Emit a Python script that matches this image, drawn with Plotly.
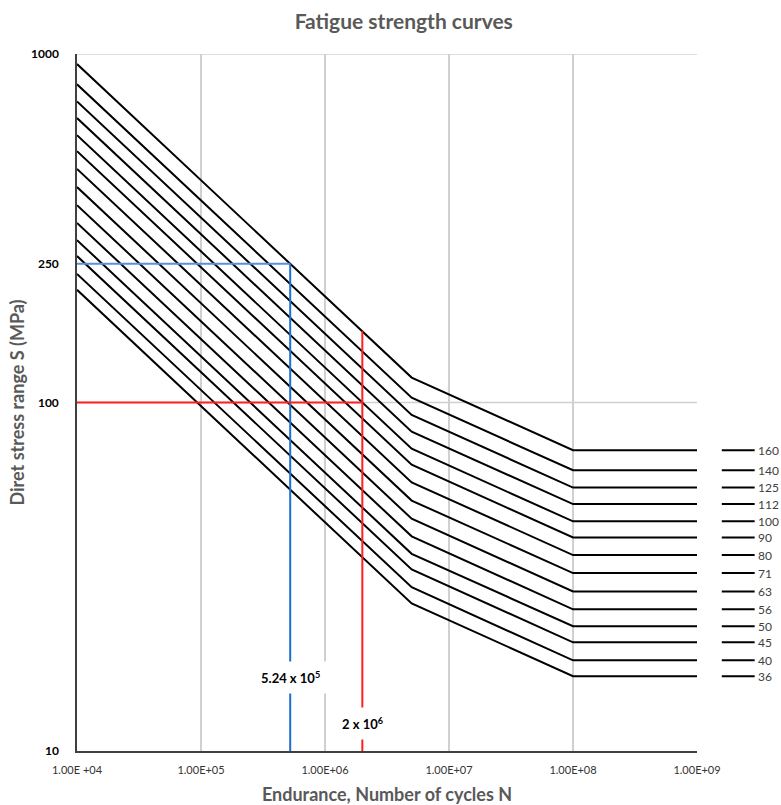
import math
import plotly.graph_objects as go

# ---- data ----
categories = [160, 140, 125, 112, 100, 90, 80, 71, 63, 56, 50, 45, 40, 36]
cycles = [1e4, 2e6, 5e6, 1e8, 1e9]
s_at_1e4 = [935.7, 818.7, 731.0, 655.0, 584.8, 526.3, 467.8, 415.2, 368.4, 327.5, 292.4, 263.2, 233.9, 210.5]
s_at_2e6 = [160, 140, 125, 112, 100, 90, 80, 71, 63, 56, 50, 45, 40, 36]
s_at_5e6 = [117.9, 103.2, 92.1, 82.5, 73.7, 66.3, 59.0, 52.3, 46.4, 41.3, 36.8, 33.2, 29.5, 26.5]
s_at_1e8 = [73.0, 63.9, 57.0, 51.1, 45.6, 41.0, 36.5, 32.4, 28.7, 25.5, 22.8, 20.5, 18.2, 16.4]

x_tickvals = [1e4, 1e5, 1e6, 1e7, 1e8, 1e9]
x_ticktext = ["1.00E +04", "1.00E+05", "1.00E+06", "1.00E+07", "1.00E+08", "1.00E+09"]
y_tickvals = [10, 100, 250, 1000]
y_ticktext = ["10", "100", "250", "1000"]

blue_n, blue_s = 5.24e5, 250
red_n, red_s, red_top = 2e6, 100, 160
s_min = 10
blue_label_s = 16.2
red_label_s = 12.0

FONT = "Lato"
GREY = "#595959"

fig = go.Figure()

for i, c in enumerate(categories):
    fig.add_trace(go.Scatter(
        x=cycles,
        y=[s_at_1e4[i], s_at_2e6[i], s_at_5e6[i], s_at_1e8[i], s_at_1e8[i]],
        mode="lines", line=dict(color="black", width=2),
        name=str(c), showlegend=False, hoverinfo="skip"))

# blue reference lines
fig.add_trace(go.Scatter(x=[cycles[0], blue_n], y=[blue_s, blue_s], mode="lines",
                         line=dict(color="#5b8fdc", width=2), showlegend=False))
fig.add_trace(go.Scatter(x=[blue_n, blue_n], y=[blue_s, s_min], mode="lines",
                         line=dict(color="#1f6fcf", width=2), showlegend=False))
# red reference lines
fig.add_trace(go.Scatter(x=[cycles[0], red_n], y=[red_s, red_s], mode="lines",
                         line=dict(color="#ff2020", width=2), showlegend=False))
fig.add_trace(go.Scatter(x=[red_n, red_n], y=[red_top, s_min], mode="lines",
                         line=dict(color="#ff2020", width=2), showlegend=False))

shapes = []
annotations = []
# horizontal grid lines (only at 100 and 1000)
for gy in [100, 1000]:
    shapes.append(dict(type="line", xref="paper", x0=0, x1=1, yref="y", y0=gy, y1=gy,
                       line=dict(color="#d0d0d0", width=1.5), layer="below"))

# custom legend aligned with curve ends
for i, c in enumerate(categories):
    shapes.append(dict(type="line", xref="paper", x0=1.040, x1=1.093, yref="y",
                       y0=s_at_1e8[i], y1=s_at_1e8[i], line=dict(color="black", width=2)))
    annotations.append(dict(xref="paper", x=1.095, yref="y", y=math.log10(s_at_1e8[i]),
                            text=str(c), showarrow=False, xanchor="left", yanchor="middle",
                            font=dict(family=FONT, size=12, color="#404040")))

# labels on reference lines
annotations.append(dict(x=math.log10(blue_n), y=math.log10(blue_label_s), xref="x", yref="y",
                        text="<b>5.24 x 10<sup>5</sup></b>", showarrow=False,
                        bgcolor="white", borderpad=7,
                        font=dict(family=FONT, size=13, color="black")))
annotations.append(dict(x=math.log10(red_n), y=math.log10(red_label_s), xref="x", yref="y",
                        text="<b>2 x 10<sup>6</sup></b>", showarrow=False,
                        bgcolor="white", borderpad=7,
                        font=dict(family=FONT, size=13, color="black")))

fig.update_layout(
    width=781, height=805,
    paper_bgcolor="white", plot_bgcolor="white",
    margin=dict(l=77, r=84, t=54, b=54, autoexpand=False),
    title=dict(text="<b>Fatigue strength curves</b>", x=0.527, xref="paper", xanchor="center",
               y=0.973, yref="container", yanchor="middle",
               font=dict(family=FONT, size=21, color=GREY)),
    xaxis=dict(type="log", range=[4, 9], tickvals=x_tickvals, ticktext=x_ticktext,
               showgrid=True, gridcolor="#d0d0d0", gridwidth=1.5,
               showline=True, linecolor="#404040", linewidth=1.5,
               ticks="outside", ticklen=8, tickcolor="rgba(0,0,0,0)",
               tickfont=dict(family=FONT, size=11, color="#333333"),
               title=dict(text="<b>Endurance, Number of cycles N</b>", standoff=14,
                          font=dict(family=FONT, size=18, color=GREY)),
               automargin=False, zeroline=False),
    yaxis=dict(type="log", range=[1, 3], tickvals=y_tickvals, ticktext=[f"<b>{t}</b>" for t in y_ticktext],
               showgrid=False, showline=True, linecolor="#404040", linewidth=1.5,
               ticks="outside", ticklen=14, tickcolor="rgba(0,0,0,0)",
               tickfont=dict(family=FONT, size=12, color="black"),
               title=dict(text="<b>Diret stress range S (MPa)</b>", standoff=2,
                          font=dict(family=FONT, size=18, color=GREY)),
               automargin=False, zeroline=False),
    shapes=shapes,
    annotations=annotations,
    showlegend=False,
)

fig.write_html("out.html", config={"displayModeBar": False},
               post_script="document.body.style.margin='0';document.body.style.overflow='hidden';")
